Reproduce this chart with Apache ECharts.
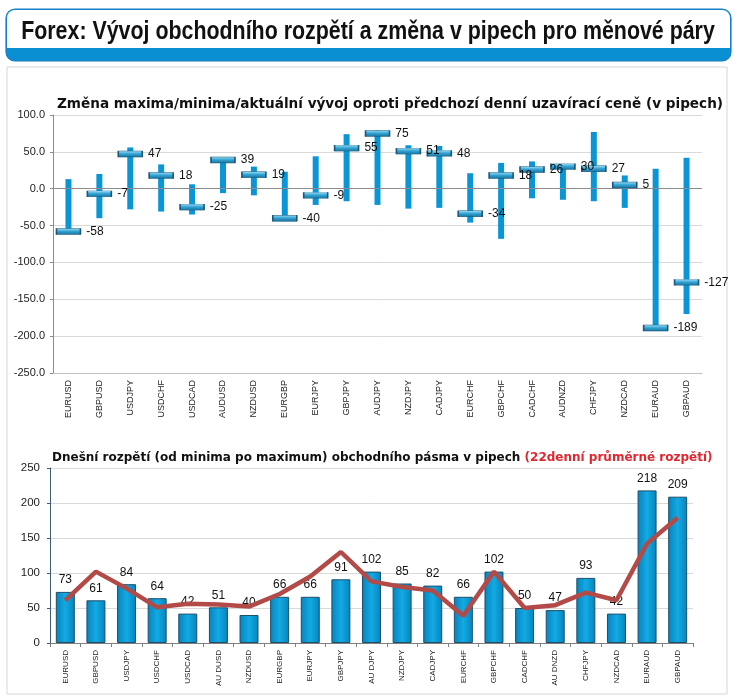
<!DOCTYPE html>
<html>
<head>
<meta charset="utf-8">
<script src="https://cdn.jsdelivr.net/npm/echarts@6/dist/echarts.min.js"></script>
<style>
html,body{margin:0;padding:0;background:#fff;}
#c{width:737px;height:696px;}
</style>
</head>
<body>
<div id="c"></div>
<script>
// ---- data ----
var pairs = ['EURUSD','GBPUSD','USDJPY','USDCHF','USDCAD','AUDUSD','NZDUSD','EURGBP','EURJPY','GBPJPY','AUDJPY','NZDJPY','CADJPY','EURCHF','GBPCHF','CADCHF','AUDNZD','CHFJPY','NZDCAD','EURAUD','GBPAUD'];
var bottomLabels = ['EURUSD','GBPUSD','USDJPY','USDCHF','USDCAD','AU DUSD','NZDUSD','EURGBP','EURJPY','GBPJPY','AU DJPY','NZDJPY','CADJPY','EURCHF','GBPCHF','CADCHF','AU DNZD','CHFJPY','NZDCAD','EURAUD','GBPAUD'];
var changeHigh = [13, 20, 56, 33, 6, 43, 30, 23, 44, 74, 79, 59, 58, 21, 35, 37, 33, 77, 18, 27, 42];
var changeLow = [-58, -40, -28, -31, -35, -6, -9, -40, -22, -17, -22, -27, -26, -46, -68, -13, -15, -17, -26, -189, -170];
var changeNow = [-58, -7, 47, 18, -25, 39, 19, -40, -9, 55, 75, 51, 48, -34, 18, 26, 30, 27, 5, -189, -127];
var rangeToday = [73, 61, 84, 64, 42, 51, 40, 66, 66, 91, 102, 85, 82, 66, 102, 50, 47, 93, 42, 218, 209];
var range22 = [61, 102, 78, 51, 56, 55, 52, 70, 95, 130, 88, 80, 75, 39, 102, 50, 54, 72, 61, 142, 179];
var topTicks = {min: -250, max: 100, interval: 50};
var bottomTicks = {min: 0, max: 250, interval: 50};

var chart = echarts.init(document.getElementById('c'));
var font = 'Liberation Sans, Arial, sans-serif';
var subFont = 'DejaVu Sans, Verdana, sans-serif';

var rangeData = pairs.map(function(p, i){ return [i, changeLow[i], changeHigh[i]]; });

var option = {
  animation: false,
  textStyle: {fontFamily: font},
  graphic: [
    {type: 'rect', shape: {x: 7, y: 67, width: 720, height: 627}, style: {fill: 'none', stroke: '#d6d6d6', lineWidth: 1}, z: -10},
    {type: 'rect', shape: {x: 6, y: 9, width: 725, height: 52, r: 9}, style: {fill: '#0a8fd2', stroke: '#1a7cbf', lineWidth: 1.2}, z: -5},
    {type: 'rect', shape: {x: 7, y: 10, width: 723, height: 38, r: [8, 8, 0, 0]}, style: {fill: '#ffffff'}, z: -4},
    {type: 'text', x: 368, y: 32, scaleX: 0.855, z: 10,
     style: {text: 'Forex: Vývoj obchodního rozpětí a změna v pipech pro měnové páry',
             font: 'bold 25px Liberation Sans, Arial, sans-serif', fill: '#111',
             textAlign: 'center', textVerticalAlign: 'middle'}}
  ],
  title: [
    {text: 'Změna maxima/minima/aktuální vývoj oproti předchozí denní uzavírací ceně (v pipech)', left: 52, top: 92,
     textStyle: {fontFamily: subFont, fontSize: 13.6, fontWeight: 'bold', color: '#111'}},
    {text: '{a|Dnešní rozpětí (od minima po maximum) obchodního pásma v pipech }{b|(22denní průměrné rozpětí)}', left: 47, top: 447,
     textStyle: {rich: {
       a: {fontFamily: subFont, fontSize: 12, fontWeight: 'bold', color: '#111'},
       b: {fontFamily: subFont, fontSize: 12, fontWeight: 'bold', color: '#e0262f'}
     }}}
  ],
  grid: [
    {left: 53, right: 35, top: 115, bottom: 323},
    {left: 50, right: 44, top: 468, bottom: 53}
  ],
  xAxis: [
    {type: 'category', gridIndex: 0, data: pairs,
     axisLine: {onZero: false, lineStyle: {color: '#bfbfbf'}},
     axisTick: {show: false},
     axisLabel: {rotate: 90, fontSize: 9, color: '#222', margin: 7, interval: 0}},
    {type: 'category', gridIndex: 1, data: bottomLabels,
     axisLine: {lineStyle: {color: '#7f7f7f'}},
     axisTick: {show: true, alignWithLabel: false, length: 4, lineStyle: {color: '#7f7f7f'}},
     axisLabel: {rotate: 90, fontSize: 8, color: '#222', margin: 7, interval: 0}}
  ],
  yAxis: [
    {type: 'value', gridIndex: 0, min: topTicks.min, max: topTicks.max, interval: topTicks.interval,
     axisLine: {show: true, lineStyle: {color: '#8c8c8c'}},
     axisTick: {show: true, length: 3, lineStyle: {color: '#8c8c8c'}},
     splitLine: {lineStyle: {color: '#d9d9d9'}},
     axisLabel: {fontSize: 11, color: '#222', margin: 8, formatter: function(v){ return v.toFixed(1); }}},
    {type: 'value', gridIndex: 1, min: bottomTicks.min, max: bottomTicks.max, interval: bottomTicks.interval,
     axisLine: {show: true, lineStyle: {color: '#3d5a78'}},
     axisTick: {show: true, length: 3, lineStyle: {color: '#3d5a78'}},
     splitLine: {lineStyle: {color: '#d9d9d9'}},
     axisLabel: {fontSize: 11.5, color: '#222', margin: 10}}
  ],
  series: [
    {type: 'custom', xAxisIndex: 0, yAxisIndex: 0, data: rangeData,
     renderItem: function(params, api){
       var lo = api.coord([api.value(0), api.value(1)]);
       var hi = api.coord([api.value(0), api.value(2)]);
       return {type: 'rect', shape: {x: lo[0] - 3, y: hi[1], width: 6, height: lo[1] - hi[1]},
               style: {fill: '#0a96d6'}};
     },
     markLine: {silent: true, symbol: 'none', label: {show: false},
       lineStyle: {color: '#8c8c8c', type: 'solid', width: 1},
       data: [{yAxis: 0}]},
     z: 2},
    {type: 'scatter', xAxisIndex: 0, yAxisIndex: 0, data: changeNow,
     symbol: 'rect', symbolSize: [24, 6],
     itemStyle: {opacity: 1, borderColor: '#1d5676', borderWidth: 0.8,
       color: new echarts.graphic.LinearGradient(0, 0, 0, 1, [
         {offset: 0, color: '#a6e0f7'}, {offset: 0.45, color: '#35a6d6'}, {offset: 1, color: '#15709a'}])},
     label: {show: true, position: 'right', distance: 5, fontSize: 12, color: '#111'},
     z: 5},
    {type: 'bar', xAxisIndex: 1, yAxisIndex: 1, data: rangeToday, barWidth: '62%',
     itemStyle: {borderColor: '#1d4f68', borderWidth: 1,
       color: new echarts.graphic.LinearGradient(0, 0, 1, 0, [
         {offset: 0, color: '#0683bd'}, {offset: 0.5, color: '#13aae3'}, {offset: 1, color: '#0683bd'}])},
     label: {show: true, position: 'top', distance: 6, fontSize: 12, color: '#111'},
     z: 2},
    {type: 'line', xAxisIndex: 1, yAxisIndex: 1, data: range22, symbol: 'none',
     lineStyle: {color: '#b24a48', width: 4.5}, z: 4}
  ]
};
chart.setOption(option);
</script>
</body>
</html>
